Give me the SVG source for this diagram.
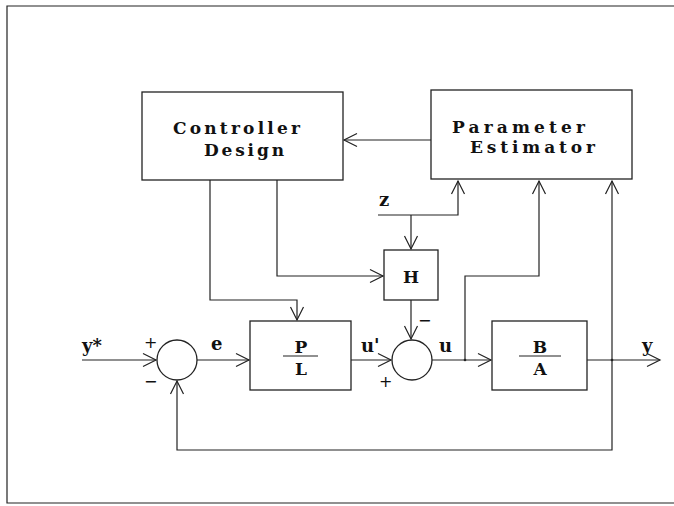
<svg xmlns="http://www.w3.org/2000/svg" width="674" height="506" viewBox="0 0 674 506">
<defs>
<marker id="arr" markerUnits="userSpaceOnUse" markerWidth="20" markerHeight="20" refX="0" refY="0" viewBox="-15 -10 20 20" orient="auto" overflow="visible">
<path d="M -13,-6.5 L 0,0 L -13,6.5" fill="none" stroke="#222" stroke-width="1.2"/>
</marker>
</defs>
<style>
.box{fill:#fff;stroke:#222;stroke-width:1.3}
.ln{fill:none;stroke:#222;stroke-width:1.2}
.t{font-family:"DejaVu Serif","Liberation Serif",serif;font-weight:bold;fill:#111;font-size:17px}
.s{font-family:"DejaVu Serif","Liberation Serif",serif;font-weight:bold;fill:#111;font-size:18px}
.g{font-family:"DejaVu Sans","Liberation Sans",sans-serif;font-weight:normal;fill:#111;font-size:16px}
</style>
<rect width="674" height="506" fill="#fff"/>
<path class="ln" d="M 674,6 H 7 V 503 H 674"/>
<g id="connectors">
<path class="ln" d="M 431,140 H 344" marker-end="url(#arr)"/>
<path class="ln" d="M 210,180 V 300 H 297 V 320" marker-end="url(#arr)"/>
<path class="ln" d="M 277,180 V 276 H 383" marker-end="url(#arr)"/>
<path class="ln" d="M 378,215 H 458 V 181" marker-end="url(#arr)"/>
<path class="ln" d="M 411,215 V 249" marker-end="url(#arr)"/>
<path class="ln" d="M 411,300 V 339" marker-end="url(#arr)"/>
<path class="ln" d="M 82,360 H 156" marker-end="url(#arr)"/>
<path class="ln" d="M 197,360 H 249" marker-end="url(#arr)"/>
<path class="ln" d="M 351,360 H 391" marker-end="url(#arr)"/>
<path class="ln" d="M 432,360 H 491" marker-end="url(#arr)"/>
<path class="ln" d="M 465,360 V 276 H 539 V 181" marker-end="url(#arr)"/>
<path class="ln" d="M 587,360 H 660" marker-end="url(#arr)"/>
<path class="ln" d="M 612,360 V 181" marker-end="url(#arr)"/>
<path class="ln" d="M 612,360 V 450 H 177 V 381" marker-end="url(#arr)"/>
<circle cx="465" cy="360" r="1.3" fill="#222"/>
<circle cx="612" cy="360" r="1.3" fill="#222"/>
</g>
<g id="controller-design">
<rect class="box" x="142" y="92" width="201" height="88"/>
<text class="t" x="173" y="134" textLength="127" lengthAdjust="spacing">Controller</text>
<text class="t" x="204" y="156" textLength="80" lengthAdjust="spacing">Design</text>
</g>
<g id="parameter-estimator">
<rect class="box" x="431" y="90" width="201" height="89"/>
<text class="t" x="452" y="133" textLength="133" lengthAdjust="spacing">Parameter</text>
<text class="t" x="470" y="153" textLength="125" lengthAdjust="spacing">Estimator</text>
</g>
<g id="H">
<rect class="box" x="384" y="250" width="54" height="50"/>
<text class="t" x="411" y="283" text-anchor="middle">H</text>
</g>
<g id="PL">
<rect class="box" x="250" y="321" width="101" height="69"/>
<text class="t" x="301" y="353" text-anchor="middle">P</text>
<line class="ln" x1="283" y1="356" x2="318" y2="356"/>
<text class="t" x="301" y="375" text-anchor="middle">L</text>
</g>
<g id="BA">
<rect class="box" x="492" y="321" width="95" height="69"/>
<text class="t" x="540" y="353" text-anchor="middle">B</text>
<line class="ln" x1="519" y1="356" x2="561" y2="356"/>
<text class="t" x="540" y="375" text-anchor="middle">A</text>
</g>
<g id="sum1">
<circle class="box" cx="177" cy="360" r="20"/>
</g>
<g id="sum2">
<circle class="box" cx="412" cy="360" r="20"/>
</g>
<g id="labels">
<text class="s" x="82" y="352">y*</text>
<text class="g" x="144" y="348">+</text>
<text class="g" x="144" y="387">−</text>
<text class="s" x="211" y="350">e</text>
<text class="s" x="361" y="352">u'</text>
<text class="g" x="379" y="387">+</text>
<text class="g" x="418" y="326">−</text>
<text class="s" x="439" y="352">u</text>
<text class="s" x="379" y="206">z</text>
<text class="s" x="642" y="352">y</text>
</g>
</svg>
